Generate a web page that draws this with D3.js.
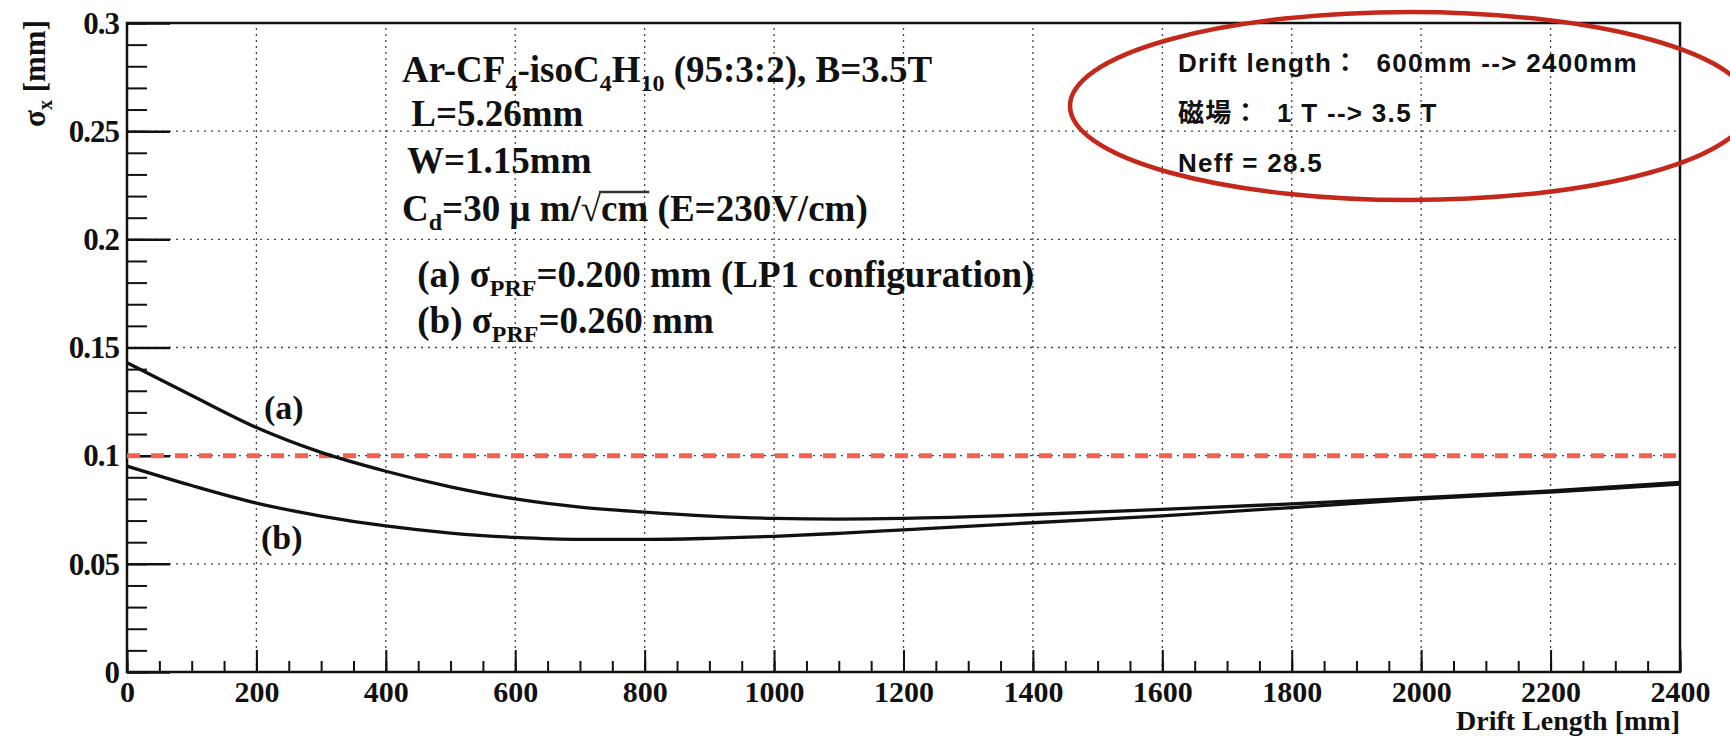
<!DOCTYPE html>
<html>
<head>
<meta charset="utf-8">
<script src="https://cdn.jsdelivr.net/npm/d3@7"></script>
<style>
  body { margin: 0; background: #fff; }
  svg text { font-family: "Liberation Serif", "Times New Roman", serif; font-weight: bold; fill: #111; }
  .sans { font-family: "Liberation Sans", "Noto Sans CJK JP", sans-serif !important; }
</style>
</head>
<body>
<div id="chart"></div>
<script>
// values (drift length in mm, sigma_x in mm)
let driftLength = [0, 100, 200, 300, 400, 500, 600, 700, 800, 900, 1000, 1100, 1200, 1400, 1600, 1800, 2000, 2200, 2400];
let sigmaA = [0.1430, 0.1278, 0.1130, 0.1015, 0.0928, 0.0856, 0.0800, 0.0762, 0.0739, 0.0721, 0.0710, 0.0707, 0.0710, 0.0728, 0.0752, 0.0777, 0.0806, 0.0837, 0.0876];
let sigmaB = [0.0952, 0.0862, 0.0781, 0.0721, 0.0675, 0.0642, 0.0622, 0.0613, 0.0613, 0.0618, 0.0627, 0.0641, 0.0657, 0.0690, 0.0722, 0.0760, 0.0800, 0.0832, 0.0868];
let limitLine = 0.1;

// tick labels
let xTicks = [0, 200, 400, 600, 800, 1000, 1200, 1400, 1600, 1800, 2000, 2200, 2400];
let yTicks = [0, 0.05, 0.1, 0.15, 0.2, 0.25, 0.3];

// text on the plot
let infoLines = [
  [{t: "Ar-CF"}, {t: "4", sub: true}, {t: "-isoC"}, {t: "4", sub: true}, {t: "H"}, {t: "10", sub: true}, {t: " (95:3:2), B=3.5T"}],
  [{t: " L=5.26mm"}],
  [{t: "W=1.15mm"}],
  [{t: "C"}, {t: "d", sub: true}, {t: "=30 μ m/√"}, {t: "cm", over: true}, {t: " (E=230V/cm)"}],
  [{t: " (a) σ"}, {t: "PRF", sub: true}, {t: "=0.200 mm (LP1 configuration)"}],
  [{t: " (b) σ"}, {t: "PRF", sub: true}, {t: "=0.260 mm"}]
];
let noteLines = ["Drift length：  600mm --> 2400mm", "磁場：  1 T --> 3.5 T", "Neff = 28.5"];

let config = {svg: {}, plot: {}};
config.svg.width = 1730;
config.svg.height = 736;
config.plot.left = 127;
config.plot.right = 1680;
config.plot.top = 23;
config.plot.bottom = 672;

function translate(x, y) {
  return 'translate(' + x + ',' + y + ')';
}

let svg = d3.select("#chart").append("svg")
  .attr("width", config.svg.width)
  .attr("height", config.svg.height);

let x = d3.scaleLinear().domain([0, 2400]).range([config.plot.left, config.plot.right]);
let y = d3.scaleLinear().domain([0, 0.3]).range([config.plot.bottom, config.plot.top]);

// dotted grid
let grid = svg.append("g");
grid.selectAll(".vgrid")
  .data(xTicks.slice(1, -1)).enter()
  .append("line")
  .attr("x1", d => x(d)).attr("x2", d => x(d))
  .attr("y1", y(0)).attr("y2", y(0.3))
  .style("stroke", "#444").style("stroke-width", 1.3).style("stroke-dasharray", "2,4");
grid.selectAll(".hgrid")
  .data(yTicks.slice(1, -1)).enter()
  .append("line")
  .attr("x1", x(0)).attr("x2", x(2400))
  .attr("y1", d => y(d)).attr("y2", d => y(d))
  .style("stroke", "#444").style("stroke-width", 1.3).style("stroke-dasharray", "2,5");

// minor ticks
svg.append("g")
  .attr("transform", translate(0, config.plot.bottom))
  .call(d3.axisBottom(x).ticks(48).tickSize(-11).tickFormat(""))
  .call(g => g.select(".domain").remove())
  .selectAll("line").style("stroke", "#111").style("stroke-width", 2);
svg.append("g")
  .attr("transform", translate(config.plot.left, 0))
  .call(d3.axisLeft(y).ticks(30).tickSize(-20).tickFormat(""))
  .call(g => g.select(".domain").remove())
  .selectAll("line").style("stroke", "#111").style("stroke-width", 2);

// major ticks + labels
let xAxis = svg.append("g")
  .attr("transform", translate(0, config.plot.bottom))
  .call(d3.axisBottom(x).tickValues(xTicks).tickSize(-22).tickPadding(9).tickFormat(d => d));
xAxis.select(".domain").remove();
xAxis.selectAll("line").style("stroke", "#111").style("stroke-width", 2);
xAxis.selectAll("text").style("font-size", "30px").attr("fill", "#111");

let yAxis = svg.append("g")
  .attr("transform", translate(config.plot.left, 0))
  .call(d3.axisLeft(y).tickValues(yTicks).tickSize(-43).tickPadding(8).tickFormat(d => String(d)));
yAxis.select(".domain").remove();
yAxis.selectAll("line").style("stroke", "#111").style("stroke-width", 2.5);
yAxis.selectAll("text").style("font-size", "31px").attr("fill", "#111").attr("dy", "0.33em")
  .style("letter-spacing", "-1px");

// frame
svg.append("rect")
  .attr("x", x(0)).attr("y", y(0.3))
  .attr("width", x(2400) - x(0)).attr("height", y(0) - y(0.3))
  .style("fill", "none").style("stroke", "#111").style("stroke-width", 2.5);

// red limit line
svg.append("line")
  .attr("x1", x(0)).attr("x2", x(2400))
  .attr("y1", y(limitLine)).attr("y2", y(limitLine))
  .style("stroke", "#f2624f").style("stroke-width", 5).style("stroke-dasharray", "13,11");

// curves
let line = d3.line()
  .x((d, i) => x(driftLength[i]))
  .y(d => y(d))
  .curve(d3.curveMonotoneX);
svg.selectAll(".curve")
  .data([sigmaA, sigmaB]).enter()
  .append("path")
  .attr("d", line)
  .style("fill", "none").style("stroke", "#111").style("stroke-width", 3.3);

// curve labels
svg.append("text").attr("x", 264).attr("y", 419).style("font-size", "34px").text("(a)");
svg.append("text").attr("x", 261).attr("y", 549).style("font-size", "34px").text("(b)");

// axis titles
svg.append("text")
  .attr("x", config.plot.right).attr("y", 730)
  .attr("text-anchor", "end")
  .style("font-size", "28px")
  .text("Drift Length [mm]");

let yTitle = svg.append("text")
  .attr("transform", translate(45, 20) + " rotate(-90)")
  .attr("text-anchor", "end")
  .style("font-size", "31px");
yTitle.append("tspan").text("σ");
yTitle.append("tspan").attr("dy", 7).style("font-size", "20px").text("x");
yTitle.append("tspan").attr("dy", -7).text(" [mm]");

// info text block
let infoX = [402, 402, 407, 402, 408, 408];
let infoY = [82, 126, 173, 221, 287, 333];
infoLines.forEach(function(segs, i) {
  let t = svg.append("text")
    .attr("x", infoX[i]).attr("y", infoY[i])
    .style("font-size", "37px")
    .attr("xml:space", "preserve");
  let shifted = false;
  let pos = 0;
  segs.forEach(function(s) {
    let ts = t.append("tspan").text(s.t);
    if (s.sub) {
      ts.attr("dy", 9).style("font-size", "24px");
      shifted = true;
    } else if (shifted) {
      ts.attr("dy", -9);
      shifted = false;
    }
    if (s.over) {
      // bar of the square root, drawn over the chars
      let node = t.node();
      let x1 = node.getStartPositionOfChar(pos).x - 2;
      let x2 = node.getEndPositionOfChar(pos + s.t.length - 1).x + 1;
      svg.append("line")
        .attr("x1", x1).attr("x2", x2)
        .attr("y1", infoY[i] - 29).attr("y2", infoY[i] - 29)
        .style("stroke", "#333").style("stroke-width", 2.5);
    }
    pos += s.t.length;
  });
});

// note in red ellipse
noteLines.forEach(function(s, i) {
  svg.append("text")
    .attr("class", "sans")
    .attr("x", 1178).attr("y", 72 + i * 50)
    .attr("xml:space", "preserve")
    .style("font-size", "26px")
    .style("letter-spacing", "1.3px")
    .text(s);
});
svg.append("ellipse")
  .attr("cx", 1410).attr("cy", 106)
  .attr("rx", 340).attr("ry", 94)
  .style("fill", "none").style("stroke", "#c3281a").style("stroke-width", 4.5);
</script>
</body>
</html>
